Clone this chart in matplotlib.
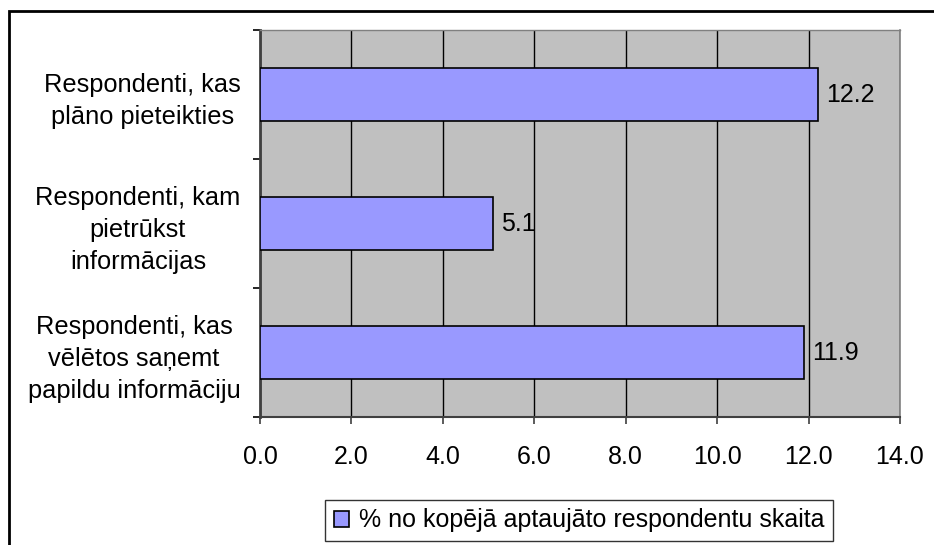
import matplotlib
matplotlib.use("Agg")
import matplotlib.pyplot as plt
from matplotlib.patches import Rectangle, Patch

categories = [
    "Respondenti, kas\nplāno pieteikties",
    "Respondenti, kam\npietrūkst\ninformācijas",
    "Respondenti, kas\nvēlētos saņemt\npapildu informāciju",
]
values = [12.2, 5.1, 11.9]
xticks = [0, 2, 4, 6, 8, 10, 12, 14]
legend_label = "% no kopējā aptaujāto respondentu skaita"

plt.rcParams['font.family'] = ['Liberation Sans', 'DejaVu Sans']

W, H = 934, 545
fig = plt.figure(figsize=(W / 100, H / 100), dpi=100)
ax = fig.add_axes([260 / W, 1 - 417 / H, 640 / W, 387 / H])
ax.set_facecolor("#C0C0C0")

ypos = list(range(len(categories)))
ax.barh(ypos, values, height=0.41, color="#9999FF", edgecolor="black", linewidth=1.2, zorder=3)
for y, v in zip(ypos, values):
    ax.text(v + 0.18, y, f"{v:.1f}", va="center", ha="left", fontsize=18, zorder=4)

ax.set_xlim(0, 14)
ax.set_ylim(2.5, -0.5)
ax.set_xticks(xticks)
ax.set_xticklabels([f"{t:.1f}" for t in xticks])
ax.xaxis.grid(True, color="black", linewidth=1, zorder=1)
ax.set_axisbelow(True)

ax.set_yticks(ypos)
ax.set_yticklabels(categories, multialignment="center", fontsize=18.3, linespacing=1.42)
ax.set_yticks([-0.5, 0.5, 1.5, 2.5], minor=True)
ax.tick_params(axis="y", which="major", length=0, pad=14)
ax.tick_params(axis="y", which="minor", length=5, width=1.2, color="black", direction="out")
ax.tick_params(axis="x", length=5, width=1.2, color="#404040", direction="out", labelsize=18, pad=15)

ax.spines["left"].set_color("#404040")
ax.spines["left"].set_linewidth(2)
ax.spines["bottom"].set_color("#404040")
ax.spines["bottom"].set_linewidth(1.5)
ax.spines["top"].set_color("#808080")
ax.spines["top"].set_linewidth(1)
ax.spines["right"].set_color("#808080")
ax.spines["right"].set_linewidth(1.2)

fig.patches.append(Rectangle((9 / W, -0.2), 1.2, (H - 11) / H + 0.2, transform=fig.transFigure,
                             fill=False, edgecolor="black", linewidth=2, clip_on=False))

handle = Patch(facecolor="#9999FF", edgecolor="black", linewidth=1.2)
leg = fig.legend([handle], [legend_label], loc="center",
                 bbox_to_anchor=(579 / W, 1 - 520.5 / H), fontsize=18,
                 frameon=True, fancybox=False, edgecolor="black",
                 handlelength=0.6, handleheight=0.6, handletextpad=0.4,
                 borderpad=0.35, borderaxespad=0)
leg.get_frame().set_linewidth(1)

fig.savefig("out.png", dpi=100)
